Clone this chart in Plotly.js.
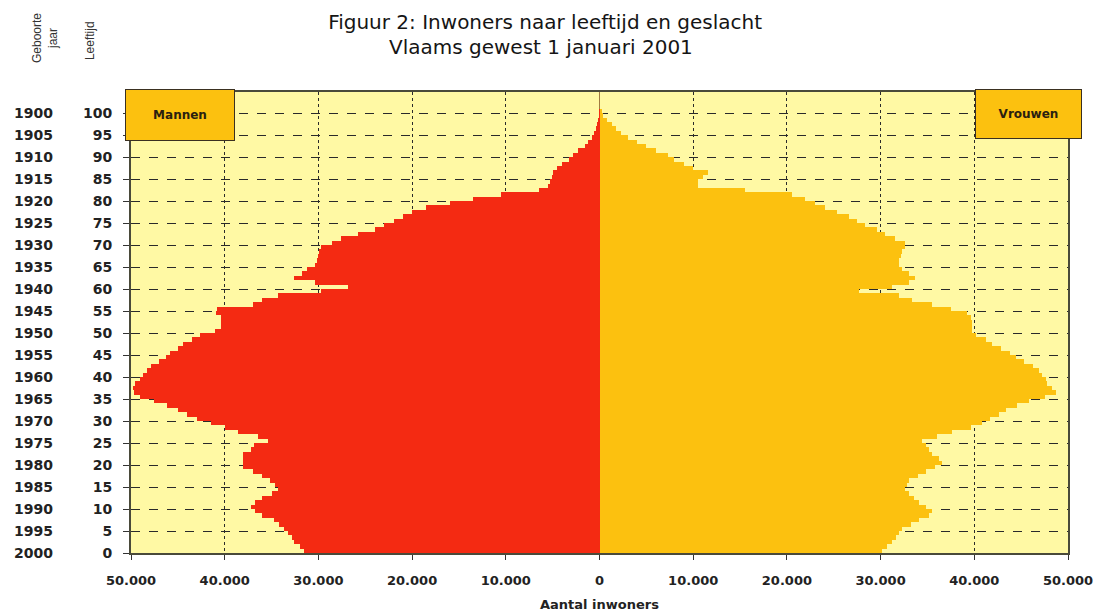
<!DOCTYPE html>
<html>
<head>
<meta charset="utf-8">
<script src="https://cdn.plot.ly/plotly-3.0.1.min.js"></script>
<style>html,body{margin:0;padding:0;background:#fff;}#chart{width:1099px;height:615px;}</style>
</head>
<body>
<div id="chart"></div>
<script>
// Ages 0..100 (age in years on 1 January 2001)
const ages = [];
for (let a = 0; a <= 100; a++) ages.push(a);

// Men (Mannen), inhabitants per age 0..100
const mannen = [
  31500, 32000, 32600, 32800, 33200, 33700, 34200, 34700, 36000, 36800,
  37200, 36800, 36000, 35000, 34300, 34600, 35200, 36000, 37000, 38000,
  38000, 38000, 38000, 37200, 36900, 35400, 36500, 38600, 40000, 41500,
  43000, 44000, 45000, 46200, 47500, 49000, 49700, 49800, 49600, 49000,
  48700, 48300, 47900, 47000, 46300, 45800, 45000, 44400, 43500, 42600,
  41000, 40400, 40400, 40400, 40900, 40800, 37000, 36000, 34300, 29700,
  26800, 30400, 32600, 31800, 31200, 30400, 30200, 30000, 29900, 29700,
  28500, 27600, 25800, 24000, 23000, 21900, 21000, 20000, 18500, 16000,
  13500, 10500, 6500, 5500, 5300, 5100, 5000, 4500, 4000, 3300,
  2800, 2300, 1600, 1200, 800, 600, 400, 300, 200, 100,
  60
];

// Women (Vrouwen), inhabitants per age 0..100
const vrouwen = [
  30100, 30700, 31200, 31600, 32000, 32300, 33200, 34100, 35200, 35500,
  34800, 34100, 33600, 33000, 32600, 32800, 33000, 34000, 34800, 35800,
  36600, 36200, 35500, 35200, 34800, 34400, 36000, 37600, 39600, 40800,
  41700, 42600, 43400, 44600, 45800, 47500, 48700, 48300, 47800, 47600,
  47200, 46900, 46300, 45300, 44400, 43800, 42800, 41900, 41200, 40200,
  39800, 39800, 39800, 39600, 39200, 37500, 35500, 33400, 32000, 27700,
  31200, 33000, 33700, 33000, 32300, 32000, 32000, 32200, 32300, 32600,
  32600, 31500, 30500, 29600, 28300, 27500, 26600, 25300, 24100, 23000,
  21900, 20500, 15500, 10500, 10500, 11000, 11600, 10000, 9000, 8000,
  7300, 6000, 5000, 4000, 3000, 2300, 1800, 1300, 800, 400,
  250
];

// Axis tick labels
const ageTicks = [0,5,10,15,20,25,30,35,40,45,50,55,60,65,70,75,80,85,90,95,100];
const ageLabels = ageTicks.map(String);
const yearLabels = ['2000','1995','1990','1985','1980','1975','1970','1965','1960','1955',
  '1950','1945','1940','1935','1930','1925','1920','1915','1910','1905','1900'];
const xTicks = [-50000,-40000,-30000,-20000,-10000,0,10000,20000,30000,40000,50000];
const xLabels = ['50.000','40.000','30.000','20.000','10.000','0','10.000','20.000','30.000','40.000','50.000'];

const COLOR_M = '#F42A12';
const COLOR_V = '#FCC10F';

const traces = [
  {
    type: 'bar', orientation: 'h', name: 'Mannen',
    y: ages, x: mannen.map(v => -v),
    width: 1, offset: 0,
    marker: {color: COLOR_M, line: {width: 0}},
    hoverinfo: 'skip', showlegend: false
  },
  {
    type: 'bar', orientation: 'h', name: 'Vrouwen',
    y: ages, x: vrouwen,
    width: 1, offset: 0,
    marker: {color: COLOR_V, line: {width: 0}},
    hoverinfo: 'skip', showlegend: false
  }
];

const tickFont = {family: 'DejaVu Sans, Liberation Sans, Arial', size: 14, color: '#222', weight: 'bold'};
const xTickFont = {family: 'DejaVu Sans, Liberation Sans, Arial', size: 13, color: '#222', weight: 'bold'};

// Birth-year labels as a second column left of the age labels
const yearAnnotations = yearLabels.map((t, i) => ({
  text: t,
  xref: 'paper', yref: 'y', x: -0.0811, y: ageTicks[i],
  xanchor: 'right', yanchor: 'middle', showarrow: false,
  font: tickFont
}));

const titleFont = {family: 'DejaVu Sans, Liberation Sans, Arial', size: 20, color: '#151515'};

const layout = {
  width: 1099, height: 615,
  margin: {l: 131, r: 31, t: 92, b: 62},
  paper_bgcolor: '#ffffff',
  plot_bgcolor: '#FFF9A4',
  barmode: 'overlay',
  bargap: 0,
  title: {
    text: 'Figuur 2: Inwoners naar leeftijd en geslacht',
    font: titleFont,
    x: 0.496, xanchor: 'center', xref: 'container',
    y: 0.964, yanchor: 'middle', yref: 'container'
  },
  xaxis: {
    range: [-50000, 50000],
    tickvals: xTicks, ticktext: xLabels,
    tickfont: xTickFont,
    ticks: 'outside', ticklen: 5, tickcolor: '#333',
    ticklabelstandoff: 9,
    showgrid: true, gridcolor: '#2a2a2a', griddash: 'dot', gridwidth: 1,
    zeroline: true, zerolinecolor: '#a07a40', zerolinewidth: 1,
    showline: true, linecolor: '#4a4a3a', linewidth: 2, mirror: true,
    fixedrange: true,
    title: {text: 'Aantal inwoners', font: {family: 'DejaVu Sans, Arial', size: 13, color: '#222', weight: 'bold'}, standoff: 13}
  },
  yaxis: {
    range: [0, 104.8],
    tickvals: ageTicks, ticktext: ageLabels,
    tickfont: tickFont,
    ticks: 'outside', ticklen: 6, tickcolor: '#333',
    ticklabelstandoff: 8,
    showgrid: true, gridcolor: '#2a2a2a', griddash: 'dash', gridwidth: 1,
    zeroline: false,
    showline: true, linecolor: '#4a4a3a', linewidth: 2, mirror: true,
    fixedrange: true
  },
  annotations: [
    {
      text: 'Vlaams gewest 1 januari 2001',
      xref: 'paper', yref: 'paper', x: 0.4376, y: 1.0976,
      xanchor: 'center', yanchor: 'middle', showarrow: false,
      font: titleFont
    },
    {
      text: '<b>Mannen</b>',
      xref: 'paper', yref: 'paper', x: 0.0522, y: 0.950,
      xanchor: 'center', yanchor: 'middle', showarrow: false,
      width: 108, height: 50, borderpad: 0,
      bgcolor: COLOR_V, bordercolor: '#3a3020', borderwidth: 1,
      font: {family: 'DejaVu Sans, Arial', size: 12, color: '#2a2010'}
    },
    {
      text: '<b>Vrouwen</b>',
      xref: 'paper', yref: 'paper', x: 0.958, y: 0.952,
      xanchor: 'center', yanchor: 'middle', showarrow: false,
      width: 105, height: 48, borderpad: 0,
      bgcolor: COLOR_V, bordercolor: '#3a3020', borderwidth: 1,
      font: {family: 'DejaVu Sans, Arial', size: 12, color: '#2a2010'}
    },
    {
      text: 'Geboorte<br>jaar',
      xref: 'paper', yref: 'paper', x: -0.0918, y: 1.117,
      xanchor: 'center', yanchor: 'middle', showarrow: false, textangle: -90,
      font: {family: 'Liberation Sans, Arial', size: 12, color: '#333'}
    },
    {
      text: 'Leeftijd',
      xref: 'paper', yref: 'paper', x: -0.043, y: 1.112,
      xanchor: 'center', yanchor: 'middle', showarrow: false, textangle: -90,
      font: {family: 'Liberation Sans, Arial', size: 12, color: '#333'}
    }
  ].concat(yearAnnotations)
};

Plotly.newPlot('chart', traces, layout, {displayModeBar: false, staticPlot: true});
</script>
</body>
</html>
